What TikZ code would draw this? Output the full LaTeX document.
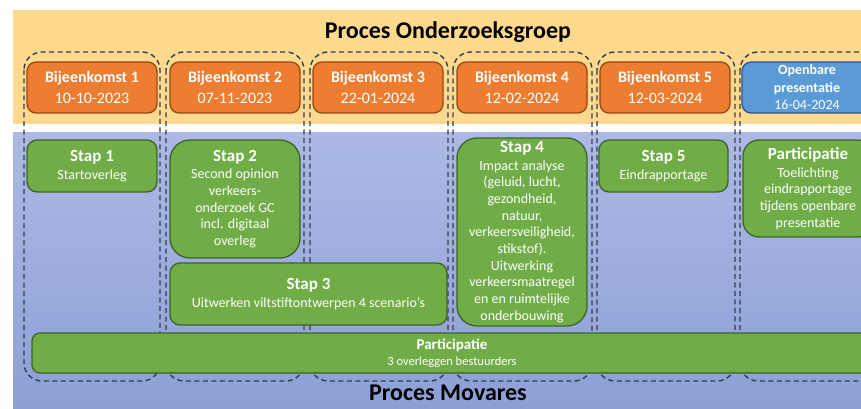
\documentclass[tikz,border=0pt]{standalone}
\usepackage{fontspec}
\setmainfont{Carlito}
\definecolor{geel}{RGB}{255,218,142}
\definecolor{blauwtop}{RGB}{172,185,228}
\definecolor{blauwbodem}{RGB}{140,160,214}
\definecolor{oranje}{RGB}{237,125,49}
\definecolor{oranjerand}{RGB}{150,72,20}
\definecolor{blauw}{RGB}{91,155,213}
\definecolor{blauwrand}{RGB}{47,85,151}
\definecolor{groen}{RGB}{112,173,71}
\definecolor{groenrand}{RGB}{60,100,40}
\definecolor{lijn}{RGB}{50,60,75}
\newcommand{\kop}[1]{{\fontsize{17}{20}\selectfont\bfseries #1}}
\begin{document}
\begin{tikzpicture}[x=1pt,y=-1pt,
	kolom/.style={draw=lijn,dash pattern=on 5pt off 3.5pt,line width=1.4pt,rounded corners=18pt},
	bijeen/.style={draw=oranjerand,fill=oranje,line width=1.3pt,rounded corners=9pt,text=white,align=center,
		font=\fontsize{16}{21}\selectfont,minimum width=130pt,minimum height=51pt,inner sep=0pt},
	stap/.style={draw=groenrand,fill=groen,line width=1.3pt,text=white,align=center,
		font=\fontsize{14}{16.7}\selectfont,inner sep=0pt},
	titel/.style={font=\fontsize{24}{28}\selectfont\bfseries,inner sep=0pt}]
	\useasboundingbox (0,0) rectangle (861,409);
	\clip (0,0) rectangle (861,409);
	% achtergrond
	\fill[geel] (13,10) rectangle (861,124);
	\fill[top color=blauwtop,bottom color=blauwbodem] (13,132) rectangle (861,409);
	\foreach \l/\r in {24/160,166/304,310/448,453/592,597/735,740/878}
		\draw[kolom] (\l,52) rectangle (\r,381);
	\node[titel] (og) at (448,32) {Proces Onderzoeksgroep};
	\node[titel] (movares) at (448,393) {Proces Movares};
	% bijeenkomsten
	\foreach \i/\x/\d in {1/92/10-10-2023,2/235/07-11-2023,3/378/22-01-2024,4/522/12-02-2024,5/665/12-03-2024}
		\node[bijeen] (bk\i) at (\x,87.5) {\textbf{Bijeenkomst \i}\\\d};
	\node[bijeen,fill=blauw,draw=blauwrand,font=\fontsize{14}{17.5}\selectfont] (presentatie) at (807,87.5)
		{\textbf{Openbare}\\\textbf{presentatie}\\16-04-2024};
	% stappen
	\node[stap,rounded corners=10pt,minimum width=130pt,minimum height=52pt] (stap1) at (92,166)
		{\kop{Stap 1}\\[1pt]Startoverleg};
	\node[stap,rounded corners=20pt,minimum width=130pt,minimum height=118pt] (stap2) at (235,199)
		{\kop{Stap 2}\\[1pt]Second opinion\\verkeers-\\onderzoek GC\\incl. digitaal\\overleg};
	\node[stap,rounded corners=10pt,minimum width=277pt,minimum height=62pt] (stap3) at (308.5,294)
		{\kop{Stap 3}\\[1pt]Uitwerken viltstiftontwerpen 4 scenario’s};
	\node[stap,rounded corners=20pt,minimum width=130pt,minimum height=188pt] (stap4) at (522,232)
		{\kop{Stap 4}\\[1pt]Impact analyse\\(geluid, lucht,\\gezondheid,\\natuur,\\verkeersveiligheid,\\stikstof).\\Uitwerking\\verkeersmaatregel\\en en ruimtelijke\\onderbouwing};
	\node[stap,rounded corners=10pt,minimum width=129pt,minimum height=52pt] (stap5) at (663.5,166)
		{\kop{Stap 5}\\[1pt]Eindrapportage};
	\node[stap,rounded corners=16pt,minimum width=130pt,minimum height=97pt] (partrechts) at (808,188.5)
		{\kop{Participatie}\\[1pt]Toelichting\\eindrapportage\\tijdens openbare\\presentatie};
	\node[stap,rounded corners=8pt,minimum width=840pt,minimum height=40pt,font=\fontsize{12.5}{16}\selectfont] (partonder) at (452,353)
		{{\fontsize{15}{17}\selectfont\bfseries Participatie}\\3 overleggen bestuurders};
\end{tikzpicture}
\end{document}
